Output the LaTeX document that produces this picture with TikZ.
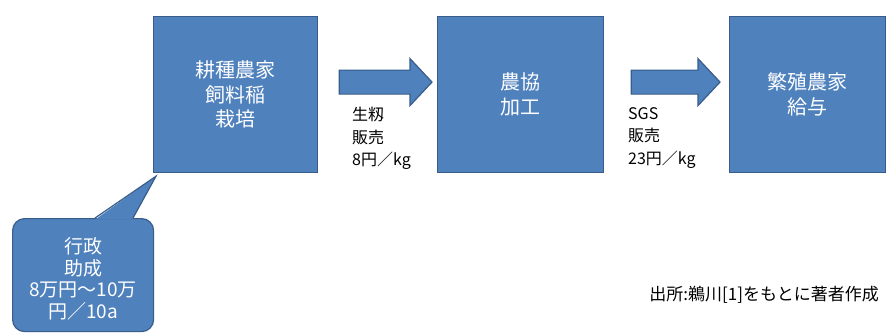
\documentclass[tikz,border=0pt]{standalone}
\usepackage{fontspec}
\setmainfont{Noto Sans CJK JP}
\usetikzlibrary{calc}
\definecolor{boxblue}{HTML}{4F81BD}
\definecolor{boxedge}{HTML}{385D8A}
\tikzset{
  bluebox/.style={draw=boxedge, line width=1.2pt, fill=boxblue, text=white,
    anchor=north west, align=center, inner sep=0pt,
    font=\fontsize{20}{24.5}\selectfont},
  blockarr/.style={draw=boxedge, line width=1.2pt, fill=boxblue},
  pricelabel/.style={anchor=north west, align=left, inner sep=0pt, text=black,
    font=\fontsize{16}{22.5}\selectfont},
  callout/.style={draw=boxedge, line width=1.2pt, fill=boxblue, text=white,
    rounded corners=12pt, align=center, inner sep=0pt,
    font=\fontsize{19}{21.5}\selectfont},
}
\newcommand\blkarrow[2]{%
  \draw[blockarr] let \p1=(#1), \p2=(#2) in
    (\x1,\y1+12pt) -- (\x2-22pt,\y1+12pt) -- (\x2-22pt,\y1+23.5pt) --
    (\x2,\y1) -- (\x2-22pt,\y1-23.5pt) -- (\x2-22pt,\y1-12pt) --
    (\x1,\y1-12pt) -- cycle;}
\begin{document}
\begin{tikzpicture}[x=1pt,y=-1pt]
\useasboundingbox[fill=white] (0,0) rectangle (886,333);
% boxes
\node[bluebox, minimum width=164pt, minimum height=156pt] (b1) at (153,16) {耕種農家\\飼料稲\\栽培};
\node[bluebox, minimum width=166pt, minimum height=156pt] (b2) at (437,16) {農協\\加工};
\node[bluebox, minimum width=156pt, minimum height=156pt] (b3) at (729,16) {繁殖農家\\給与};
% block arrows
\coordinate (a1s) at ($(b1.east)+(21,-12.5)$);
\coordinate (a1e) at ($(b2.west)+(-5,-12.5)$);
\coordinate (a2s) at ($(b2.east)+(27,-12.5)$);
\coordinate (a2e) at ($(b3.west)+(-9,-12.5)$);
\blkarrow{a1s}{a1e}
\blkarrow{a2s}{a2e}
% price labels
\node[pricelabel] (l1) at (352,107) {生籾\\販売\\8円／kg};
\node[pricelabel] (l2) at (628,107) {SGS\\販売\\23円／kg};
% callout
\node[callout, minimum width=141pt, minimum height=113pt, anchor=north west] (c1) at (12,218) {\\[2pt]行政\\助成\\8万円～10万\\円／10a};
\coordinate (tip) at ($(b1.south west)+(3,3)$);
\coordinate (tl) at ($(c1.north west)+(83,0)$);
\coordinate (tr) at ($(c1.north west)+(121,0)$);
\fill[boxblue] ($(tl)+(0.6,1.2)$) -- (tip) -- ($(tr)+(-0.6,1.2)$) -- cycle;
\draw[boxedge, line width=1.2pt, line join=miter] (tl) -- (tip) -- (tr);
% source
\node[anchor=east, inner sep=0pt, text=black, font=\fontsize{17}{19}\selectfont] (src) at (879,295) {出所:鵜川[1]をもとに著者作成};
\end{tikzpicture}
\end{document}
